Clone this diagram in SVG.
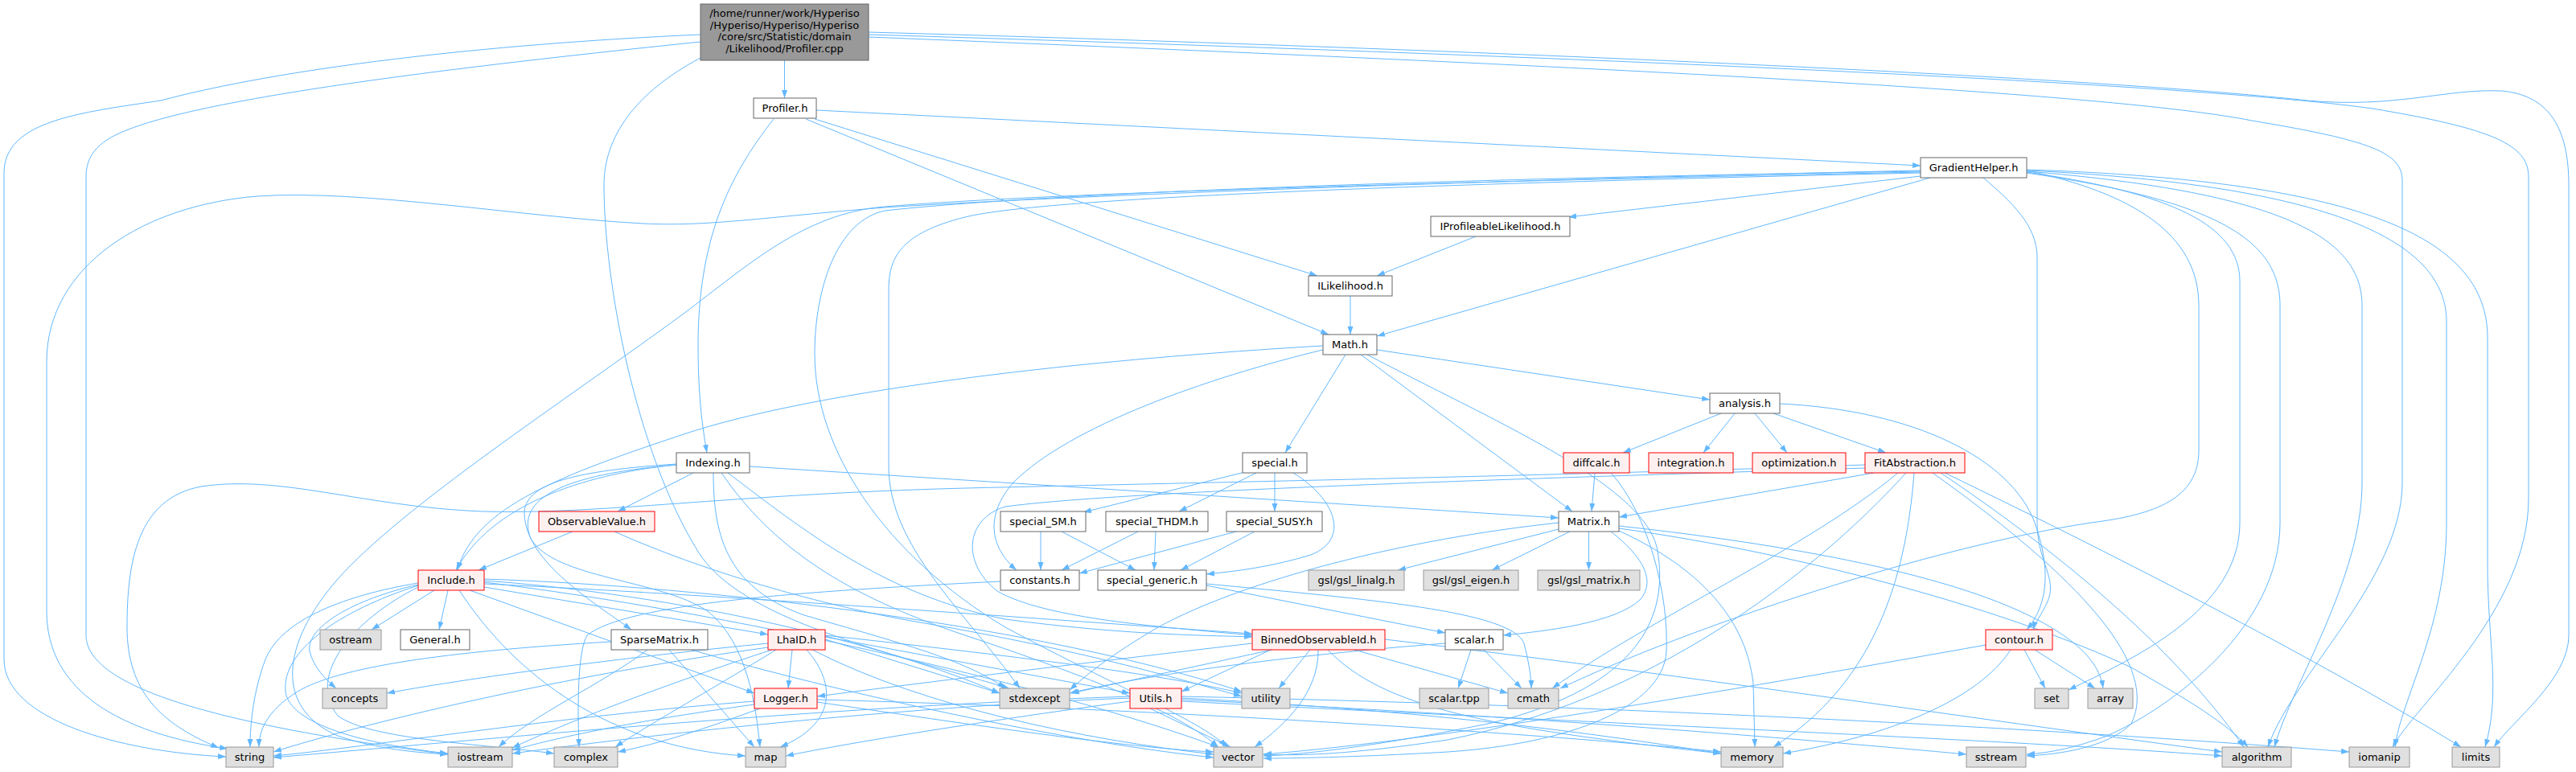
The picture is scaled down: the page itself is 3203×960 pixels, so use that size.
<svg xmlns="http://www.w3.org/2000/svg" width="3203" height="960" viewBox="0 0 3203 960">
<style>
.e{fill:none;stroke:#63b8ff;stroke-width:1;marker-end:url(#a)}
.n rect{fill:#ffffff;stroke:#666666;stroke-width:1}
.r rect{fill:#fff0f0;stroke:#ff0000;stroke-width:1}
.g rect{fill:#e0e0e0;stroke:#999999;stroke-width:1}
.rt rect{fill:#999999;stroke:#666666;stroke-width:1}
text{font-family:"DejaVu Sans","Liberation Sans",sans-serif;font-size:13px;fill:#000000;text-anchor:middle}
</style>
<defs>
<marker id="a" markerWidth="10" markerHeight="8" refX="10" refY="3.5" orient="auto" markerUnits="userSpaceOnUse"><path d="M0,0 L10,3.5 L0,7 z" fill="#63b8ff"/></marker>
</defs>
<rect width="3203" height="960" fill="#ffffff"/>
<g id="edges">
<path class="e" d="M975.5,75 L975.5,122"/>
<path class="e" d="M871,43 C600,55 350,85 200,125 C100,140 5,150 5,215 L5,820 C5,895 150,935 281,941"/>
<path class="e" d="M871,52 C600,80 250,120 150,165 C115,180 107,200 107,220 L107,790 C107,860 300,905 557,938"/>
<path class="e" d="M871,72 C790,115 751,170 751,230 C751,350 790,560 868,686 C920,770 1100,810 1255,856"/>
<path class="e" d="M1080,46 C1800,75 2600,110 2800,150 C2950,175 2987,190 2987,225 L2987,600 C2987,720 2850,840 2820,929"/>
<path class="e" d="M1080,43 C1800,65 2700,100 2950,135 C3100,160 3144,180 3144,220 L3144,620 C3144,760 3000,880 2975,929"/>
<path class="e" d="M1080,40 C1800,60 2600,95 2869,125 C2980,135 3040,110 3110,113 C3170,118 3194,160 3194,230 L3194,790 C3194,845 3125,895 3101,929"/>
<path class="e" d="M1015,137 L2388,206"/>
<path class="e" d="M1013,148 L1638,343"/>
<path class="e" d="M1002,148 L1652,416"/>
<path class="e" d="M962,148 C905,220 868,300 868,430 C868,500 875,540 879,563"/>
<path class="e" d="M2388,219 L1950,270"/>
<path class="e" d="M2400,221 L1712,418"/>
<path class="e" d="M2388,212 C1800,225 1300,245 1100,258 C950,270 880,282 800,278 C650,270 450,235 320,244 C180,255 58,330 58,450 L58,760 C58,860 150,912 283,931"/>
<path class="e" d="M2388,214 C1800,226 1300,240 1100,257 C1000,265 930,330 850,390 C700,500 500,630 420,720 C350,800 340,880 420,915 C470,932 520,936 557,938"/>
<path class="e" d="M2388,215 C1800,228 1300,245 1200,270 C1120,290 1105,320 1105,360 L1105,580 C1105,680 1200,760 1268,856"/>
<path class="e" d="M2388,213 C1800,222 1300,240 1100,262 C1040,275 1013,360 1013,440 C1013,560 1100,690 1250,780 C1400,860 1500,900 1525,929"/>
<path class="e" d="M2466,221 C2500,250 2533,280 2533,320 L2533,650 C2533,700 2560,720 2545,750 C2538,765 2530,775 2528,783"/>
<path class="e" d="M2520,212 C2650,240 2734,290 2734,380 L2734,560 C2734,620 2680,640 2600,650 C2400,680 2100,780 1940,856"/>
<path class="e" d="M2520,214 C2700,240 2785,280 2785,350 L2785,650 C2785,760 2650,820 2572,858"/>
<path class="e" d="M2520,215 C2760,250 2835,300 2835,380 L2835,650 C2835,780 2700,880 2620,915 C2580,930 2550,936 2520,938"/>
<path class="e" d="M2520,213 C2850,240 2937,300 2937,380 L2937,600 C2937,720 2850,850 2828,929"/>
<path class="e" d="M2520,212 C2900,230 3042,300 3042,400 L3042,650 C3042,780 2985,870 2978,929"/>
<path class="e" d="M2520,211 C2950,225 3093,300 3093,420 L3093,700 C3093,800 3110,860 3090,929"/>
<path class="e" d="M1835,294 L1712,343"/>
<path class="e" d="M1679,368 L1679,416"/>
<path class="e" d="M1645,430 C1300,450 1000,490 850,540 C700,590 590,630 569,709"/>
<path class="e" d="M1645,435 C1500,470 1330,530 1260,600 C1225,640 1230,680 1264,709"/>
<path class="e" d="M1673,441 L1598,563"/>
<path class="e" d="M1692,441 L1955,636"/>
<path class="e" d="M1712,435 L2126,497"/>
<path class="e" d="M1700,441 C1850,520 2040,600 2060,680 C2080,780 2020,860 1850,900 C1700,930 1620,938 1571,940"/>
<path class="e" d="M2140,514 L2018,563"/>
<path class="e" d="M2157,514 L2118,563"/>
<path class="e" d="M2182,514 L2222,563"/>
<path class="e" d="M2205,514 L2345,563"/>
<path class="e" d="M2213,502 C2380,510 2500,570 2530,650 C2555,720 2540,760 2520,783"/>
<path class="e" d="M1983,588 L1979,636"/>
<path class="e" d="M2003,588 C2050,640 2075,740 2072,810 C2068,880 1950,925 1800,935 C1680,942 1600,943 1571,943"/>
<path class="e" d="M2330,588 L2013,643"/>
<path class="e" d="M2319,578 C2000,590 1500,600 1200,607 C900,615 750,640 600,636 C450,630 350,590 250,605 C170,620 158,700 158,780 C158,860 200,900 272,930"/>
<path class="e" d="M2319,582 C1900,595 1400,610 1250,630 C1200,645 1195,700 1240,735 C1300,770 1450,780 1557,790"/>
<path class="e" d="M2360,588 C2250,680 2050,770 1930,856"/>
<path class="e" d="M2370,588 C2250,720 2050,870 1800,920 C1680,938 1620,940 1571,938"/>
<path class="e" d="M2380,588 C2370,720 2330,850 2205,929"/>
<path class="e" d="M2413,588 C2550,680 2700,800 2790,929"/>
<path class="e" d="M2403,588 C2560,700 2690,820 2650,900 C2620,930 2560,938 2520,940"/>
<path class="e" d="M2418,588 C2650,700 2900,830 3060,929"/>
<path class="e" d="M1938,658 L1738,709"/>
<path class="e" d="M1952,661 L1855,709"/>
<path class="e" d="M1975.5,661 L1975.5,709"/>
<path class="e" d="M2003,661 C2040,690 2060,720 2040,745 C2010,775 1920,785 1869,790"/>
<path class="e" d="M2013,660 C2100,700 2170,760 2180,850 L2182,929"/>
<path class="e" d="M2013,654 C2250,680 2450,720 2550,780 C2600,810 2612,835 2615,856"/>
<path class="e" d="M2013,657 C2250,690 2500,760 2650,830 C2720,870 2770,900 2795,929"/>
<path class="e" d="M1938,650 C1750,670 1550,720 1440,780 C1380,815 1350,840 1330,858"/>
<path class="e" d="M862,588 L768,636"/>
<path class="e" d="M841,578 C720,590 610,630 567,709"/>
<path class="e" d="M841,577 C720,585 650,600 652,640 C655,700 740,750 785,783"/>
<path class="e" d="M841,578 C700,590 640,620 660,670 C690,720 820,720 880,760 C930,800 940,880 945,929"/>
<path class="e" d="M887,588 C887,660 900,730 1000,765 C1120,800 1200,820 1250,856"/>
<path class="e" d="M897,588 C960,680 1050,740 1200,790 C1380,850 1470,890 1515,929"/>
<path class="e" d="M905,588 C1000,660 1100,740 1250,770 C1400,790 1500,790 1557,792"/>
<path class="e" d="M932,580 L1938,644"/>
<path class="e" d="M712,661 L595,709"/>
<path class="e" d="M764,661 C850,700 1000,750 1150,775 C1350,810 1450,840 1544,866"/>
<path class="e" d="M1548,587 L1347,637"/>
<path class="e" d="M1562,588 L1466,636"/>
<path class="e" d="M1585,588 L1585,636"/>
<path class="e" d="M1608,588 C1660,620 1680,670 1630,690 C1580,705 1540,710 1500,714"/>
<path class="e" d="M1294,661 L1294,709"/>
<path class="e" d="M1320,661 L1412,709"/>
<path class="e" d="M1415,661 L1320,709"/>
<path class="e" d="M1437,661 L1435,709"/>
<path class="e" d="M1537,661 L1342,713"/>
<path class="e" d="M1560,661 L1468,709"/>
<path class="e" d="M1500,728 L1797,787"/>
<path class="e" d="M1500,726 C1700,745 1880,760 1895,800 C1900,820 1904,840 1904,856"/>
<path class="e" d="M1244,723 C1000,735 780,750 730,790 C718,810 718,880 720,929"/>
<path class="e" d="M540,734 L462,783"/>
<path class="e" d="M557,734 L546,783"/>
<path class="e" d="M520,727 C440,745 380,780 385,810 C390,830 405,845 418,856"/>
<path class="e" d="M520,725 C430,740 350,770 330,820 C315,860 311,900 311,929"/>
<path class="e" d="M520,728 C420,760 350,810 355,860 C360,900 450,925 557,937"/>
<path class="e" d="M520,730 C440,770 380,840 420,890 C460,920 600,925 689,937"/>
<path class="e" d="M571,734 C640,840 760,930 927,940"/>
<path class="e" d="M584,734 L938,862"/>
<path class="e" d="M602,730 L955,789"/>
<path class="e" d="M602,726 C900,740 1300,770 1557,788"/>
<path class="e" d="M602,722 C850,740 1100,800 1243,862"/>
<path class="e" d="M602,724 C900,760 1300,850 1515,929"/>
<path class="e" d="M602,720 C900,730 1300,780 1544,860"/>
<path class="e" d="M760,798 C550,810 420,830 370,860 C330,885 322,910 322,929"/>
<path class="e" d="M805,808 C750,850 660,890 620,929"/>
<path class="e" d="M832,808 L938,929"/>
<path class="e" d="M860,808 C1000,850 1300,920 1509,942"/>
<path class="e" d="M985,808 L980,856"/>
<path class="e" d="M1003,808 C1040,850 1040,900 970,929"/>
<path class="e" d="M955,800 C800,815 600,840 481,862"/>
<path class="e" d="M955,805 C700,840 450,900 340,935"/>
<path class="e" d="M960,808 C830,850 700,900 637,930"/>
<path class="e" d="M965,808 C880,860 800,905 765,929"/>
<path class="e" d="M1026,795 L1243,862"/>
<path class="e" d="M1010,808 C1150,880 1350,920 1509,938"/>
<path class="e" d="M1026,792 L1405,862"/>
<path class="e" d="M1026,790 C1300,820 1450,840 1544,862"/>
<path class="e" d="M938,872 C700,890 450,930 340,940"/>
<path class="e" d="M938,876 C800,895 700,915 637,933"/>
<path class="e" d="M945,881 C880,905 820,925 768,935"/>
<path class="e" d="M1016,873 C1200,900 1400,930 1509,935"/>
<path class="e" d="M1016,870 C1400,880 1900,910 2140,935"/>
<path class="e" d="M1405,866 C1000,880 600,920 340,942"/>
<path class="e" d="M1405,868 C1100,880 800,915 637,937"/>
<path class="e" d="M1405,872 C1200,900 1050,925 977,940"/>
<path class="e" d="M1430,881 L1530,929"/>
<path class="e" d="M1469,872 C2000,900 2500,920 2763,940"/>
<path class="e" d="M1469,870 C1900,890 2250,920 2445,938"/>
<path class="e" d="M1469,868 C1800,885 2000,915 2140,937"/>
<path class="e" d="M1469,866 C2100,880 2600,910 2921,935"/>
<path class="e" d="M1582,808 L1332,862"/>
<path class="e" d="M1629,808 L1590,856"/>
<path class="e" d="M1639,808 C1640,860 1600,900 1560,929"/>
<path class="e" d="M1557,800 C1300,830 1100,855 1016,866"/>
<path class="e" d="M1580,808 L1469,860"/>
<path class="e" d="M1722,795 C2100,840 2500,900 2763,935"/>
<path class="e" d="M1684,808 L1875,862"/>
<path class="e" d="M1651,808 C1720,880 1850,905 2140,937"/>
<path class="e" d="M1829,808 L1813,856"/>
<path class="e" d="M1845,808 L1892,856"/>
<path class="e" d="M1797,800 C1600,815 1420,840 1330,862"/>
<path class="e" d="M2517,808 L2543,856"/>
<path class="e" d="M2530,808 L2605,856"/>
<path class="e" d="M2500,808 C2460,870 2350,915 2217,937"/>
<path class="e" d="M2469,802 C2200,850 1800,920 1571,938"/>
</g>
<g id="node-root" class="rt"><rect x="871" y="5" width="209" height="70"/><text x="975.5" y="21">/home/runner/work/Hyperiso</text><text x="975.5" y="35.7">/Hyperiso/Hyperiso/Hyperiso</text><text x="975.5" y="50.4">/core/src/Statistic/domain</text><text x="975.5" y="65">/Likelihood/Profiler.cpp</text></g>
<g id="node-profiler" class="n"><rect x="937" y="122" width="78" height="25"/><text x="976" y="139">Profiler.h</text></g>
<g id="node-gradienthelper" class="n"><rect x="2388" y="196" width="132" height="25"/><text x="2454" y="213">GradientHelper.h</text></g>
<g id="node-iprofileable" class="n"><rect x="1779" y="269" width="173" height="25"/><text x="1865.5" y="286">IProfileableLikelihood.h</text></g>
<g id="node-ilikelihood" class="n"><rect x="1627" y="343" width="104" height="25"/><text x="1679" y="360">ILikelihood.h</text></g>
<g id="node-math" class="n"><rect x="1645" y="416" width="67" height="25"/><text x="1678.5" y="433">Math.h</text></g>
<g id="node-analysis" class="n"><rect x="2126" y="489" width="87" height="25"/><text x="2169.5" y="506">analysis.h</text></g>
<g id="node-indexing" class="n"><rect x="841" y="563" width="91" height="25"/><text x="886.5" y="580">Indexing.h</text></g>
<g id="node-special" class="n"><rect x="1545" y="563" width="80" height="25"/><text x="1585" y="580">special.h</text></g>
<g id="node-diffcalc" class="r"><rect x="1944" y="563" width="82" height="25"/><text x="1985" y="580">diffcalc.h</text></g>
<g id="node-integration" class="r"><rect x="2050" y="563" width="105" height="25"/><text x="2102.5" y="580">integration.h</text></g>
<g id="node-optimization" class="r"><rect x="2179" y="563" width="116" height="25"/><text x="2237" y="580">optimization.h</text></g>
<g id="node-fitabstraction" class="r"><rect x="2319" y="563" width="124" height="25"/><text x="2381" y="580">FitAbstraction.h</text></g>
<g id="node-observablevalue" class="r"><rect x="670" y="636" width="144" height="25"/><text x="742" y="653">ObservableValue.h</text></g>
<g id="node-special-sm" class="n"><rect x="1244" y="636" width="106" height="25"/><text x="1297" y="653">special_SM.h</text></g>
<g id="node-special-thdm" class="n"><rect x="1375" y="636" width="127" height="25"/><text x="1438.5" y="653">special_THDM.h</text></g>
<g id="node-special-susy" class="n"><rect x="1525" y="636" width="119" height="25"/><text x="1584.5" y="653">special_SUSY.h</text></g>
<g id="node-matrix" class="n"><rect x="1938" y="636" width="75" height="25"/><text x="1975.5" y="653">Matrix.h</text></g>
<g id="node-include" class="r"><rect x="520" y="709" width="82" height="25"/><text x="561" y="726">Include.h</text></g>
<g id="node-constants" class="n"><rect x="1244" y="709" width="98" height="25"/><text x="1293" y="726">constants.h</text></g>
<g id="node-special-generic" class="n"><rect x="1365" y="709" width="135" height="25"/><text x="1432.5" y="726">special_generic.h</text></g>
<g id="node-gsl-linalg" class="g"><rect x="1627" y="709" width="119" height="25"/><text x="1686.5" y="726">gsl/gsl_linalg.h</text></g>
<g id="node-gsl-eigen" class="g"><rect x="1770" y="709" width="118" height="25"/><text x="1829" y="726">gsl/gsl_eigen.h</text></g>
<g id="node-gsl-matrix" class="g"><rect x="1912" y="709" width="127" height="25"/><text x="1975.5" y="726">gsl/gsl_matrix.h</text></g>
<g id="node-ostream" class="g"><rect x="398" y="783" width="76" height="25"/><text x="436" y="800">ostream</text></g>
<g id="node-general" class="n"><rect x="498" y="783" width="86" height="25"/><text x="541" y="800">General.h</text></g>
<g id="node-sparsematrix" class="n"><rect x="760" y="783" width="120" height="25"/><text x="820" y="800">SparseMatrix.h</text></g>
<g id="node-lhaid" class="r"><rect x="955" y="783" width="71" height="25"/><text x="990.5" y="800">LhaID.h</text></g>
<g id="node-binned" class="r"><rect x="1557" y="783" width="165" height="25"/><text x="1639.5" y="800">BinnedObservableId.h</text></g>
<g id="node-scalar" class="n"><rect x="1797" y="783" width="72" height="25"/><text x="1833" y="800">scalar.h</text></g>
<g id="node-contour" class="r"><rect x="2469" y="783" width="83" height="25"/><text x="2510.5" y="800">contour.h</text></g>
<g id="node-concepts" class="g"><rect x="401" y="856" width="80" height="25"/><text x="441" y="873">concepts</text></g>
<g id="node-logger" class="r"><rect x="938" y="856" width="78" height="25"/><text x="977" y="873">Logger.h</text></g>
<g id="node-stdexcept" class="g"><rect x="1243" y="856" width="87" height="25"/><text x="1286.5" y="873">stdexcept</text></g>
<g id="node-utils" class="r"><rect x="1405" y="856" width="64" height="25"/><text x="1437" y="873">Utils.h</text></g>
<g id="node-utility" class="g"><rect x="1544" y="856" width="60" height="25"/><text x="1574" y="873">utility</text></g>
<g id="node-scalar-tpp" class="g"><rect x="1765" y="856" width="86" height="25"/><text x="1808" y="873">scalar.tpp</text></g>
<g id="node-cmath" class="g"><rect x="1875" y="856" width="63" height="25"/><text x="1906.5" y="873">cmath</text></g>
<g id="node-set" class="g"><rect x="2530" y="856" width="42" height="25"/><text x="2551" y="873">set</text></g>
<g id="node-array" class="g"><rect x="2596" y="856" width="56" height="25"/><text x="2624" y="873">array</text></g>
<g id="node-string" class="g"><rect x="281" y="929" width="59" height="25"/><text x="310.5" y="946">string</text></g>
<g id="node-iostream" class="g"><rect x="557" y="929" width="80" height="25"/><text x="597" y="946">iostream</text></g>
<g id="node-complex" class="g"><rect x="689" y="929" width="79" height="25"/><text x="728.5" y="946">complex</text></g>
<g id="node-map" class="g"><rect x="927" y="929" width="50" height="25"/><text x="952" y="946">map</text></g>
<g id="node-vector" class="g"><rect x="1509" y="929" width="61" height="25"/><text x="1539.5" y="946">vector</text></g>
<g id="node-memory" class="g"><rect x="2140" y="929" width="77" height="25"/><text x="2178.5" y="946">memory</text></g>
<g id="node-sstream" class="g"><rect x="2445" y="929" width="74" height="25"/><text x="2482" y="946">sstream</text></g>
<g id="node-algorithm" class="g"><rect x="2763" y="929" width="86" height="25"/><text x="2806" y="946">algorithm</text></g>
<g id="node-iomanip" class="g"><rect x="2921" y="929" width="75" height="25"/><text x="2958.5" y="946">iomanip</text></g>
<g id="node-limits" class="g"><rect x="3049" y="929" width="59" height="25"/><text x="3078.5" y="946">limits</text></g>
</svg>
